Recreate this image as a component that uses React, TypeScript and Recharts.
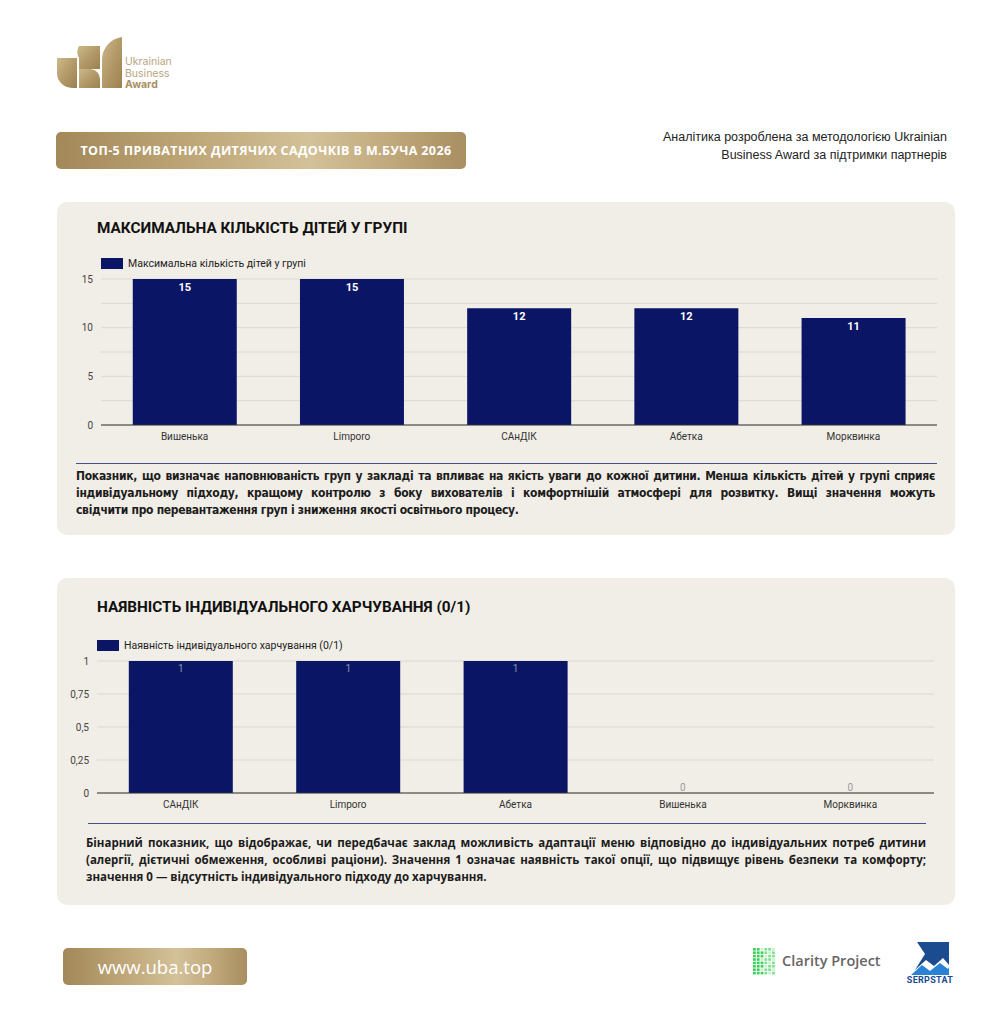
import React from 'react'
import { BarChart, Bar, XAxis, YAxis, CartesianGrid, Legend, LabelList } from 'recharts'

const groupNames = ['Вишенька', 'Limporo', 'САнДІК', 'Абетка', 'Морквинка']
const groupSizes = [15, 15, 12, 12, 11]
const groupTicks = [0, 2.5, 5, 7.5, 10, 12.5, 15]

const foodNames = ['САнДІК', 'Limporo', 'Абетка', 'Вишенька', 'Морквинка']
const foodFlags = [1, 1, 1, 0, 0]
const foodTicks = [0, 0.25, 0.5, 0.75, 1]

const groupLegend = 'Максимальна кількість дітей у групі'
const foodLegend = 'Наявність індивідуального харчування (0/1)'

const groupText = [
  'Показник, що визначає наповнюваність груп у закладі та впливає на якість уваги до кожної дитини. Менша кількість дітей у групі сприяє',
  'індивідуальному підходу, кращому контролю з боку вихователів і комфортнішій атмосфері для розвитку. Вищі значення можуть',
  'свідчити про перевантаження груп і зниження якості освітнього процесу.',
]
const foodText = [
  'Бінарний показник, що відображає, чи передбачає заклад можливість адаптації меню відповідно до індивідуальних потреб дитини',
  '(алергії, дієтичні обмеження, особливі раціони). Значення 1 означає наявність такої опції, що підвищує рівень безпеки та комфорту;',
  'значення 0 — відсутність індивідуального підходу до харчування.',
]

const groupData = groupNames.map((name, i) => ({ name, value: groupSizes[i] }))
const foodData = foodNames.map((name, i) => ({ name, value: foodFlags[i] }))

const NAVY = '#0b1566'
const PANEL = '#f1eee7'
const GRID = '#dcd8d0'
const GOLD = 'linear-gradient(90deg, #a38859 0%, #bfa879 35%, #d3c199 62%, #c2ab7e 80%, #a88e60 100%)'

const abs = (l: number, t: number, extra: React.CSSProperties = {}): React.CSSProperties => ({
  position: 'absolute', left: l, top: t, ...extra,
})

function LegendBox({ text }: { text: string }) {
  return (
    <div style={{ display: 'flex', alignItems: 'center', fontFamily: 'Roboto', fontSize: 10.5, color: '#222', whiteSpace: 'nowrap' }}>
      <span style={{ width: 22, height: 11, background: NAVY, display: 'inline-block', marginRight: 5 }} />
      {text}
    </div>
  )
}

// value labels of the bars that have height (1) sit inside the bar top
function FoodLabel(props: any) {
  const vb = props.viewBox || props
  if (!props.value) return null
  return <text x={vb.x + vb.width / 2} y={vb.y + 11} textAnchor="middle" fontSize={10} fill="#8f94ad">{props.value}</text>
}

// zero values have no bar, so their label comes from a mirrored category axis
function ZeroTick(props: any) {
  const item = foodData.find((d) => d.name === props.payload.value)
  if (!item || item.value !== 0) return null
  return <text x={props.x} y={props.y} dy={6} textAnchor="middle" fontSize={10} fill="#9a9a9a">{item.value}</text>
}

function Paragraph({ lines, left, top, width, font, size, spacing = 0 }: { lines: string[]; left: number; top: number; width: number; font: string; size: number; spacing?: number }) {
  return (
    <div style={abs(left, top, { width, fontFamily: font, fontSize: size, fontWeight: 700, color: '#1c1c1c', lineHeight: '17px', letterSpacing: spacing })}>
      {lines.map((l, i) => (
        <div key={i} style={{ textAlign: 'justify', textAlignLast: i < lines.length - 1 ? 'justify' : 'left', whiteSpace: 'nowrap' }}>{l}</div>
      ))}
    </div>
  )
}

function Logo() {
  const g = 'url(#goldg)'
  return (
    <svg width={140} height={60} style={abs(50, 32)}>
      <defs>
        <linearGradient id="goldg" x1="0" y1="0" x2="1" y2="1">
          <stop offset="0%" stopColor="#cdb98c" />
          <stop offset="50%" stopColor="#b39a68" />
          <stop offset="100%" stopColor="#9c8150" />
        </linearGradient>
      </defs>
      <path d="M7 26 H27 V56 H22 A15 15 0 0 1 7 41 Z" fill={g} />
      <path d="M29 14 H50 V37 H29 V26 A12 12 0 0 1 29 14 Z" fill={g} />
      <path d="M29 37 H40 A10 10 0 0 1 50 47 V56 H29 Z" fill={g} />
      <path d="M52 56 V28 A23 23 0 0 1 72 5 V56 Z" fill={g} />
      <text x={75} y={33} fontFamily="Inter" fontSize={10.5} fill="#b8a57f">Ukrainian</text>
      <text x={75} y={45} fontFamily="Inter" fontSize={10.5} fill="#b8a57f">Business</text>
      <text x={75} y={56} fontFamily="Inter" fontWeight={700} fontSize={10.5} fill="#a98f61">Award</text>
    </svg>
  )
}

function ClarityIcon() {
  const cells = []
  for (let r = 0; r < 8; r++) {
    for (let c = 0; c < 6; c++) {
      const on = (r + c) % 3 !== 2 || c < 2
      cells.push(<rect key={`${r}-${c}`} x={c * 3.8} y={r * 3.4} width={2.8} height={2.6} fill={on ? (c < 3 ? '#3ccf5a' : '#7fe08f') : '#c8f0cf'} />)
    }
  }
  return <svg width={24} height={28} style={abs(753, 948)}>{cells}</svg>
}

function SerpstatLogo() {
  return (
    <svg width={52} height={46} style={abs(903, 939)}>
      <path d="M14 3 H46 V26 L40 19 L31 27 L23 21 L12 31 L22 15 Z" fill="#1b4c8f" />
      <path d="M8 36 L19 26 L27 32 L37 24 L45 30 L46 28 V36 Z" fill="#2a82d6" />
      <text x={27} y={44} textAnchor="middle" fontFamily="Roboto" fontWeight={700} fontSize={9} fill="#1b4c8f" letterSpacing={0.3}>SERPSTAT</text>
    </svg>
  )
}

export default function App() {
  return (
    <div style={{ position: 'absolute', left: 0, top: 0, width: 1004, height: 1024, background: '#fff', overflow: 'hidden', fontFamily: 'Roboto' }}>
      <Logo />

      <div style={abs(56, 132, { width: 410, height: 37, borderRadius: 5, background: GOLD })} />
      <div style={abs(66, 132, { width: 400, height: 37, lineHeight: '37px', textAlign: 'center', color: '#fff', fontFamily: 'Open Sans', fontWeight: 700, fontSize: 12.5, letterSpacing: 0.4 })}>
        ТОП-5 ПРИВАТНИХ ДИТЯЧИХ САДОЧКІВ В М.БУЧА 2026
      </div>

      <div style={abs(580, 128, { width: 367, textAlign: 'right', fontFamily: 'Liberation Sans', fontSize: 12.5, lineHeight: '18px', color: '#222' })}>
        Аналітика розроблена за методологією Ukrainian<br />Business Award за підтримки партнерів
      </div>

      {/* panel 1 */}
      <div style={abs(57, 202, { width: 898, height: 333, borderRadius: 10, background: PANEL })} />
      <div style={abs(97, 218, { fontFamily: 'Roboto', fontWeight: 700, fontSize: 15.3, lineHeight: '20px', color: '#111' })}>
        МАКСИМАЛЬНА КІЛЬКІСТЬ ДІТЕЙ У ГРУПІ
      </div>
      <div style={abs(60, 250)}>
        <BarChart width={900} height={200} data={groupData} margin={{ top: 29, right: 23, bottom: 5, left: 0 }} barCategoryGap="19%" style={{ fontFamily: 'Roboto' }}>
          <CartesianGrid vertical={false} stroke={GRID} />
          <XAxis dataKey="name" axisLine={{ stroke: '#333' }} tickLine={false} height={20} tick={{ fontSize: 10, fill: '#333' }} interval={0} />
          <YAxis domain={[0, 15]} ticks={groupTicks} width={41} axisLine={false} tickLine={false} tick={{ fontSize: 10, fill: '#444' }} tickFormatter={(v: number) => (v % 5 === 0 ? String(v) : '')} />
          <Legend layout="horizontal" verticalAlign="middle" align="center" wrapperStyle={{ top: 7, left: 41, width: 'auto' }} content={() => <LegendBox text={groupLegend} />} />
          <Bar dataKey="value" fill={NAVY} isAnimationActive={false}>
            <LabelList dataKey="value" position="insideTop" offset={4} fill="#fff" fontSize={11} fontWeight={700} />
          </Bar>
        </BarChart>
      </div>
      <div style={abs(76, 463, { width: 861, height: 1, background: '#4a4f85' })} />
      <Paragraph lines={groupText} left={76} top={468} width={859} font="'Liberation Sans Narrow', 'DejaVu Sans Condensed'" size={12} spacing={-0.3} />

      {/* panel 2 */}
      <div style={abs(57, 578, { width: 898, height: 327, borderRadius: 10, background: PANEL })} />
      <div style={abs(97, 597, { fontFamily: 'Roboto', fontWeight: 700, fontSize: 15.3, lineHeight: '20px', color: '#111' })}>
        НАЯВНІСТЬ ІНДИВІДУАЛЬНОГО ХАРЧУВАННЯ (0/1)
      </div>
      <div style={abs(56, 630)}>
        <BarChart width={900} height={188} data={foodData} margin={{ top: 31, right: 22, bottom: 5, left: 0 }} barCategoryGap="19%" style={{ fontFamily: 'Roboto' }}>
          <CartesianGrid vertical={false} stroke={GRID} />
          <XAxis dataKey="name" axisLine={{ stroke: '#333' }} tickLine={false} height={20} tick={{ fontSize: 10, fill: '#333' }} interval={0} />
          <XAxis xAxisId="zero" dataKey="name" mirror axisLine={false} tickLine={false} tick={<ZeroTick />} interval={0} />
          <YAxis domain={[0, 1]} ticks={foodTicks} width={41} axisLine={false} tickLine={false} tick={{ fontSize: 10, fill: '#444' }} tickFormatter={(v: number) => String(v).replace('.', ',')} />
          <Legend layout="horizontal" verticalAlign="middle" align="center" wrapperStyle={{ top: 9, left: 41, width: 'auto' }} content={() => <LegendBox text={foodLegend} />} />
          <Bar dataKey="value" fill={NAVY} isAnimationActive={false}>
            <LabelList dataKey="value" content={FoodLabel} />
          </Bar>
        </BarChart>
      </div>
      <div style={abs(88, 823, { width: 838, height: 1, background: '#4a4f85' })} />
      <Paragraph lines={foodText} left={86} top={834} width={840} font="'Open Sans'" size={11.5} />

      {/* footer */}
      <div style={abs(63, 948, { width: 184, height: 37, borderRadius: 5, background: GOLD, color: '#fff', fontFamily: 'Open Sans', fontSize: 18.5, lineHeight: '37px', textAlign: 'center' })}>
        www.uba.top
      </div>
      <ClarityIcon />
      <div style={abs(782, 951, { fontFamily: 'Open Sans', fontWeight: 600, fontSize: 14.5, color: '#666', lineHeight: '20px' })}>Clarity Project</div>
      <SerpstatLogo />
    </div>
  )
}
